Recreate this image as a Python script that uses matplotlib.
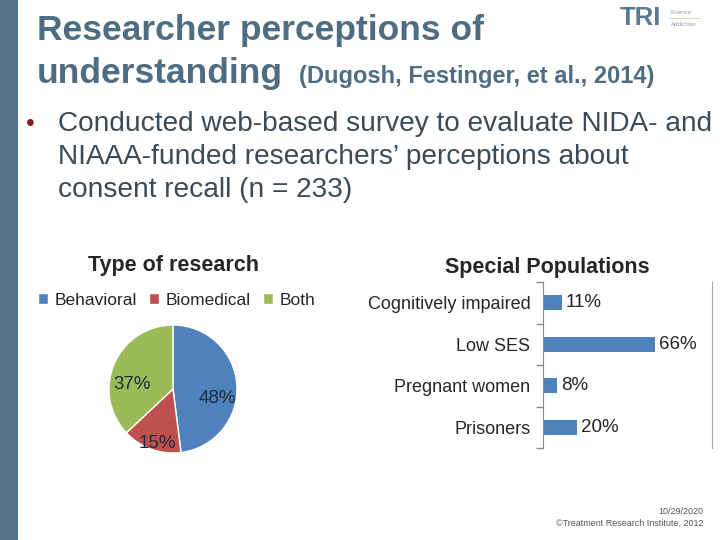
import numpy as np
import matplotlib
matplotlib.use('Agg')
from matplotlib import pyplot as plt

plt.rcParams['font.family'] = ['Liberation Sans', 'DejaVu Sans']

# data
pie_labels = ['Behavioral', 'Biomedical', 'Both']
pie_values = [48, 15, 37]
pie_colors = ['#4F81BD', '#C0504D', '#9BBB59']

pop_labels = ['Cognitively impaired', 'Low SES', 'Pregnant women', 'Prisoners']
pop_values = [11, 66, 8, 20]

W, H = 720, 540
fig = plt.figure(figsize=(7.2, 5.4), dpi=100)
fig.patch.set_facecolor('white')


def px(x, y):
    return x / W, 1 - y / H


def rect(left, top, right, bottom):
    return [left / W, 1 - bottom / H, (right - left) / W, (bottom - top) / H]


# left strip
strip = fig.add_axes([0, 0, 18 / W, 1])
strip.set_facecolor('#557389')
strip.set_xticks([]), strip.set_yticks([])
for s in strip.spines.values():
    s.set_visible(False)

title_col = '#4E6D82'
fig.text(*px(37, 31), 'Researcher perceptions of', fontsize=25.5, fontweight='bold',
         color=title_col, va='center')
fig.text(*px(37, 73), 'understanding', fontsize=25.5, fontweight='bold',
         color=title_col, va='center')
fig.text(*px(299, 77), '(Dugosh, Festinger, et al., 2014)', fontsize=17, fontweight='bold',
         color=title_col, va='center')

# logo
fig.text(*px(620, 18), 'TRI', fontsize=18.5, fontweight='bold', color='#5A7A90', va='center')
fig.text(*px(670, 12), 'Science', fontsize=4.5, style='italic', color='#8a9aa6', va='center')
fig.text(*px(670, 24), 'Addiction', fontsize=4.5, style='italic', color='#8a9aa6', va='center')
fig.add_artist(plt.Line2D([669 / W, 700 / W], [1 - 18 / H, 1 - 18 / H], color='#c9cf7a', lw=0.5))

# bullet
fig.text(*px(26, 124), '•', fontsize=18, color='#8B1A1A', va='center')
bullet_lines = ['Conducted web-based survey to evaluate NIDA- and',
                'NIAAA-funded researchers’ perceptions about',
                'consent recall (n = 233)']
for i, line in enumerate(bullet_lines):
    fig.text(*px(58, 124 + 33 * i), line, fontsize=20.2, color='#3A4A57', va='center')

# pie chart
fig.text(*px(173, 266), 'Type of research', fontsize=15.5, fontweight='bold',
         color='#262626', ha='center', va='center')
r = 64
pie_ax = fig.add_axes(rect(173 - r, 389 - r, 173 + r, 389 + r))
wedges, texts, autotexts = pie_ax.pie(pie_values, colors=pie_colors, startangle=90,
                                      counterclock=False, autopct='%d%%', pctdistance=0.7,
                                      wedgeprops=dict(edgecolor='white', linewidth=1),
                                      textprops=dict(fontsize=13.5, color='#1F2D3D'))
for t in autotexts:
    x0, y0 = t.get_position()
    t.set_position((x0, y0 - 0.2))
pie_ax.set_xlim(-1, 1)
pie_ax.set_ylim(-1, 1)
pie_ax.legend(wedges, pie_labels, loc='center', bbox_to_anchor=(0.53, 1.195), ncol=3,
              frameon=False, fontsize=12.5, handlelength=0.55, handleheight=0.55,
              handletextpad=0.4, columnspacing=0.7, labelcolor='#262626')

# bar chart
fig.text(*px(547, 267), 'Special Populations', fontsize=15.5, fontweight='bold',
         color='#262626', ha='center', va='center')
bar_ax = fig.add_axes(rect(543, 282, 712, 448))
y = np.arange(len(pop_labels))
bars = bar_ax.barh(y, pop_values, height=0.37, color='#4F81BD')
bar_ax.bar_label(bars, labels=[f'{v}%' for v in pop_values], padding=3,
                 fontsize=13.5, color='#262626')
bar_ax.set_xlim(0, 100)
bar_ax.set_ylim(3.5, -0.5)
bar_ax.set_yticks(y)
bar_ax.set_yticklabels(pop_labels, fontsize=13, color='#262626')
bar_ax.tick_params(axis='y', which='major', length=0, pad=9)
bar_ax.set_yticks(np.arange(-0.5, 4, 1), minor=True)
bar_ax.tick_params(axis='y', which='minor', length=5, color='#8c8c8c', width=1)
bar_ax.set_xticks([])
for side in ['top', 'bottom']:
    bar_ax.spines[side].set_visible(False)
bar_ax.spines['left'].set_color('#8c8c8c')
bar_ax.spines['right'].set_color('#a6a6a6')

# footer
fig.text(*px(703, 512), '10/29/2020', fontsize=6.5, color='#555555', ha='right', va='center')
fig.text(*px(703, 523), '©Treatment Research Institute, 2012', fontsize=6.5,
         color='#555555', ha='right', va='center')

fig.savefig('out.png', dpi=100)
